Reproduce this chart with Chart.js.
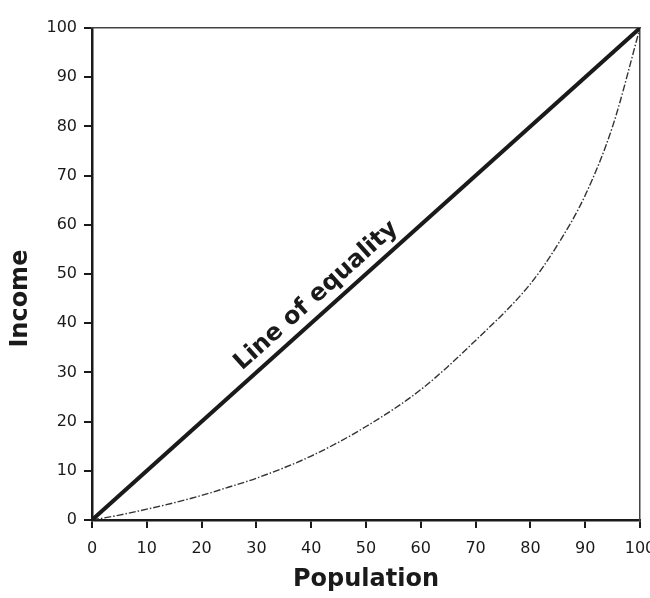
<!DOCTYPE html>
<html>
<head>
<meta charset="utf-8">
<script src="https://cdn.jsdelivr.net/npm/chart.js@4.4.1/dist/chart.umd.min.js"></script>
<style>
  html, body { margin: 0; padding: 0; background: #fff; }
  #wrap { width: 650px; height: 598px; }
</style>
</head>
<body>
<div id="wrap"><canvas id="lorenz"></canvas></div>
<script>
// values
const population = [0, 5, 10, 15, 20, 25, 30, 40, 50, 60, 70, 80, 85, 90, 95, 100];
const lorenzIncome = [0, 1, 2.2, 3.5, 5, 6.7, 8.5, 13, 19, 26.5, 36.5, 48, 56, 66, 80, 100];
const equalityX = [0, 100];
const equalityY = [0, 100];
const xTicks = [0, 10, 20, 30, 40, 50, 60, 70, 80, 90, 100];
const yTicks = [0, 10, 20, 30, 40, 50, 60, 70, 80, 90, 100];

const ink = "#1a1a1a";

// rotated label on the equality line + the income title (sits low in the scan)
const labels = {
  id: "labels",
  afterDatasetsDraw(chart) {
    const x = chart.scales.x, y = chart.scales.y;
    const ctx = chart.ctx;
    const ang = Math.atan2(y.getPixelForValue(100) - y.getPixelForValue(0),
                           x.getPixelForValue(100) - x.getPixelForValue(0));
    ctx.save();
    ctx.translate(x.getPixelForValue(43), y.getPixelForValue(43));
    ctx.rotate(ang);
    ctx.font = "bold 24px 'DejaVu Sans'";
    ctx.fillStyle = ink;
    ctx.textAlign = "center";
    ctx.textBaseline = "bottom";
    ctx.fillText("Line of equality", 0, -5);
    ctx.restore();

    ctx.save();
    ctx.translate(21, y.getPixelForValue(45));
    ctx.rotate(-Math.PI / 2);
    ctx.font = "bold 24px 'DejaVu Sans'";
    ctx.fillStyle = ink;
    ctx.textAlign = "center";
    ctx.textBaseline = "middle";
    ctx.fillText("Income", 0, 0);
    ctx.restore();
  }
};

new Chart(document.getElementById("lorenz"), {
  type: "line",
  data: {
    datasets: [
      {
        data: equalityX.map((v, i) => ({ x: v, y: equalityY[i] })),
        borderColor: ink,
        borderWidth: 4,
        pointRadius: 0,
      },
      {
        data: population.map((v, i) => ({ x: v, y: lorenzIncome[i] })),
        borderColor: "#333",
        borderWidth: 1.4,
        borderDash: [7, 2, 1.5, 2],
        pointRadius: 0,
        cubicInterpolationMode: "monotone",
      },
    ],
  },
  options: {
    responsive: true,
    maintainAspectRatio: false,
    animation: false,
    layout: { padding: { top: 28, right: 10, left: 0, bottom: 0 } },
    plugins: { legend: { display: false }, tooltip: { enabled: false } },
    scales: {
      x: {
        type: "linear",
        min: 0,
        max: 100,
        afterBuildTicks: s => { s.ticks = xTicks.map(v => ({ value: v })); },
        afterFit: s => { s.height = 78; s.paddingLeft = 0; s.paddingRight = 0; },
        grid: { drawOnChartArea: false, color: ink, lineWidth: 2, tickLength: 8 },
        border: { color: ink, width: 2.5 },
        ticks: { color: ink, padding: 11, font: { family: "DejaVu Sans", size: 16 } },
        title: {
          display: true,
          text: "Population",
          color: ink,
          font: { family: "DejaVu Sans", size: 24, weight: "bold" },
          padding: { top: 0, bottom: 4 },
        },
      },
      y: {
        type: "linear",
        min: 0,
        max: 100,
        afterBuildTicks: s => { s.ticks = yTicks.map(v => ({ value: v })); },
        afterFit: s => { s.width = 92; },
        grid: { drawOnChartArea: false, color: ink, lineWidth: 2, tickLength: 8 },
        border: { color: ink, width: 2.5 },
        ticks: { color: ink, padding: 7, font: { family: "DejaVu Sans", size: 16 } },
      },
      xTop: {
        type: "linear",
        position: "top",
        min: 0,
        max: 100,
        afterFit: s => { s.height = 0; },
        ticks: { display: false },
        grid: { display: false, drawTicks: false },
        border: { color: "#444", width: 1.5 },
      },
      yRight: {
        type: "linear",
        position: "right",
        min: 0,
        max: 100,
        afterFit: s => { s.width = 0; },
        ticks: { display: false },
        grid: { display: false, drawTicks: false },
        border: { color: "#444", width: 1.5 },
      },
    },
  },
  plugins: [labels],
});
</script>
</body>
</html>
